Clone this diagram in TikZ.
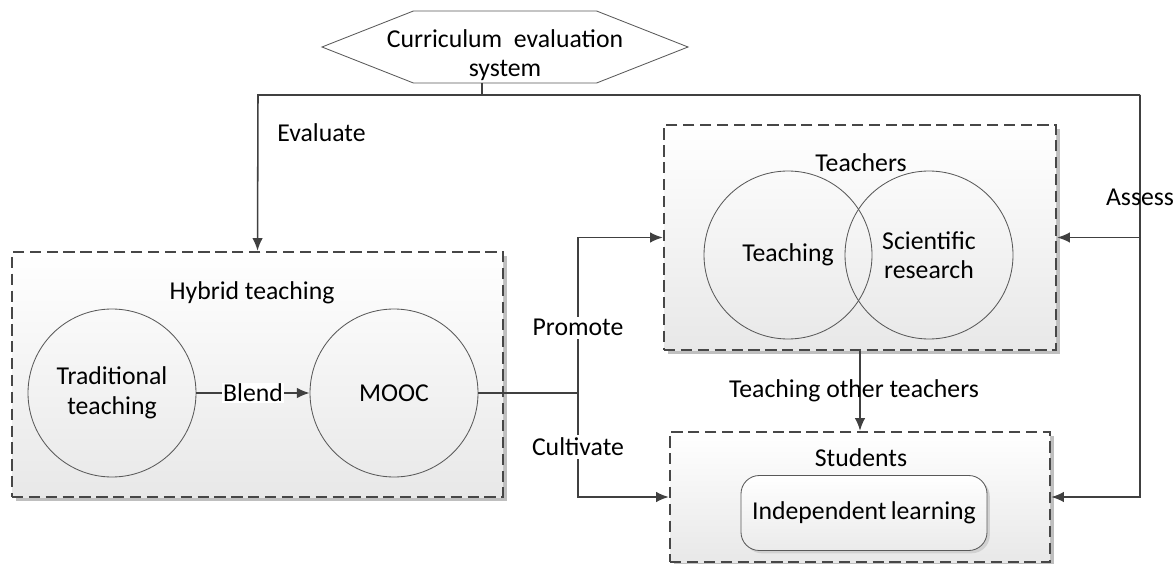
\documentclass[tikz,border=0pt]{standalone}
\usepackage{fontspec}
\setmainfont{Carlito}
\usetikzlibrary{shapes.symbols,fit,shadows,arrows.meta}
\newdimen\px \px=0.025cm
\begin{document}
\begin{tikzpicture}[x=0.025cm,y=-0.025cm,>={Latex[length=9pt,width=7.5pt]},
    font=\fontsize{18.3}{21}\selectfont,
    line/.style={draw=black!75,line width=1.1pt},
    grpbox/.style={draw=black!72,line width=1.8pt,dash pattern=on 8pt off 4pt,inner sep=0pt,
        top color=white,bottom color=black!9,drop shadow={shadow xshift=2.5pt,shadow yshift=-2.5pt,fill=black!25,opacity=1}},
    circ/.style={circle,draw=black!65,line width=0.6pt,align=center,inner sep=0pt}]
\useasboundingbox (0,0) rectangle (1176,564);
% boxes
\node[grpbox,fit={(12,252) (503,497)}] (hybrid) {};
\node[grpbox,fit={(664,125) (1056,350)}] (teachers) {};
\node[grpbox,fit={(670,432) (1050,562)}] (students) {};
\node (hyblab) at (252,293) {Hybrid teaching};
\node (tealab) at (861,163) {Teachers};
\node (stulab) at (861,458) {Students};
% inner nodes
\node[signal,signal to=east and west,signal pointer angle=43,draw=black!65,line width=0.6pt,
      minimum width=366\px,minimum height=72\px,inner sep=0pt] (eval) at (505,47) {};
\node[align=center] (evaltxt) at (505,55) {Curriculum\ \ evaluation\\system};
\node[circ,minimum size=168\px] (trad) at (112,393) {Traditional\\teaching};
\node[circ,minimum size=168\px] (mooc) at (394,393) {MOOC};
\node[circ,minimum size=168\px] (teach) at (788,255) {Teaching};
\node[circ,minimum size=168\px] (sci) at (929,255) {Scientific\\research};
\node[draw=black!65,line width=0.6pt,rounded corners=13pt,minimum width=246\px,minimum height=75\px,
      top color=white,bottom color=black!8,drop shadow={shadow xshift=2pt,shadow yshift=-2pt,fill=black!18,opacity=1}] (indep) at (864,513) {Independent\,learning};
% connectors
\coordinate (tl) at (258,95);
\coordinate (tr) at (1140,95);
\coordinate (e1) at (482,95);
\coordinate (split) at (578,393);
\draw[line] (e1 |- eval.south) -- (e1);
\draw[line,->] (tr) -- (tl) -- node[pos=0.24,right=10pt] {Evaluate} (hybrid.north);
\draw[line,->] (tr) |- node[pos=0.127] {Assess} (students.east);
\draw[line,->] (tr |- teachers.east) -- (teachers.east);
\draw[line,->] (trad) -- node[fill=white,inner sep=1pt] {Blend} (mooc);
\draw[line] (mooc) -- (split);
\draw[line,->] (split) |- node[pos=0.21,fill=white,inner sep=2pt] {Promote} (teachers.west);
\draw[line,->] (split) |- node[pos=0.26,fill=white,inner sep=2pt] {Cultivate} (students.west);
\draw[line,->] (teachers.south) -- node[xshift=-6\px] {Teaching other teachers} (students.north);
\end{tikzpicture}
\end{document}
